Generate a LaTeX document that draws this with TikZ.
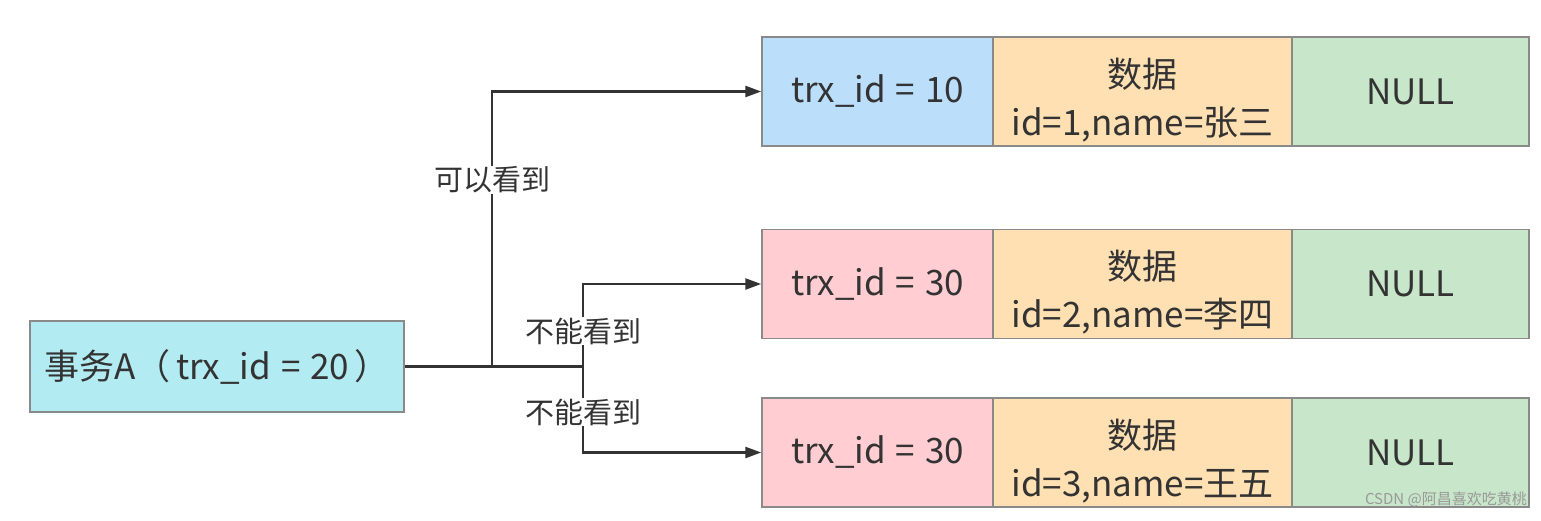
\documentclass[tikz,border=0pt]{standalone}
\usepackage{fontspec}
\setmainfont{Noto Sans CJK SC}
\usetikzlibrary{arrows.meta}
\definecolor{cyanA}{HTML}{B2EBF2}
\definecolor{blueA}{HTML}{BBDEFB}
\definecolor{pinkA}{HTML}{FFCDD2}
\definecolor{orangeA}{HTML}{FFE0B2}
\definecolor{greenA}{HTML}{C8E6C9}
\definecolor{lineA}{HTML}{333333}
\definecolor{borderA}{HTML}{8A8A8A}
\newcommand{\gapsp}{\hspace{0.28em}}
\newcommand{\topstrut}{\rule{0pt}{46pt}}
\begin{document}
\begin{tikzpicture}[x=1pt,y=-1pt,
  cell/.style={draw=borderA, line width=1.5pt, inner sep=0pt, minimum height=109pt, align=center,
    text=black!80, font=\fontsize{35}{48}\selectfont},
  conn/.style={draw=lineA, line width=2.5pt},
  arr/.style={conn, -{Triangle[length=16pt,width=11pt]}},
  lbl/.style={fill=white, inner sep=1pt, text=black!80, font=\fontsize{29}{30}\selectfont}
]
\useasboundingbox (0,0) rectangle (1541,520);
% source
\node[cell, fill=cyanA, minimum width=374pt, minimum height=91pt] (src) at (217,366.5) {事务A（\,trx\_id\gapsp=\gapsp20\,）};
% row 1
\node[cell, fill=blueA, minimum width=231pt] (a1) at (877.5,91.5) {trx\_id\gapsp=\gapsp10};
\node[cell, fill=orangeA, minimum width=299pt] (b1) at (1142.5,91.5) {\topstrut{}数据\\id=1,name=张三};
\node[cell, fill=greenA, minimum width=237pt] (c1) at (1410.5,91.5) {NULL};
% row 2
\node[cell, fill=pinkA, minimum width=231pt] (a2) at (877.5,284) {trx\_id\gapsp=\gapsp30};
\node[cell, fill=orangeA, minimum width=299pt] (b2) at (1142.5,284) {\topstrut{}数据\\id=2,name=李四};
\node[cell, fill=greenA, minimum width=237pt] (c2) at (1410.5,284) {NULL};
% row 3
\node[cell, fill=pinkA, minimum width=231pt] (a3) at (877.5,452.5) {trx\_id\gapsp=\gapsp30};
\node[cell, fill=orangeA, minimum width=299pt] (b3) at (1142.5,452.5) {\topstrut{}数据\\id=3,name=王五};
\node[cell, fill=greenA, minimum width=237pt] (c3) at (1410.5,452.5) {NULL};
% connectors
\coordinate (k) at (492,366.5);
\coordinate (j) at (583,366.5);
\draw[conn] (src.east) -- (j);
\draw[arr] (k) |- (a1.west);
\draw[arr] (j) |- (a2.west);
\draw[arr] (j) |- (a3.west);
\node[lbl] (l1) at (492,180) {可以看到};
\node[lbl] (l2) at (583,331) {不能看到};
\node[lbl] (l3) at (583,412) {不能看到};
% watermark
\node[text=black!40, font=\fontsize{15}{16}\selectfont, anchor=east, inner sep=0pt] (wm) at (1527,499) {CSDN @阿昌喜欢吃黄桃};
\end{tikzpicture}
\end{document}
